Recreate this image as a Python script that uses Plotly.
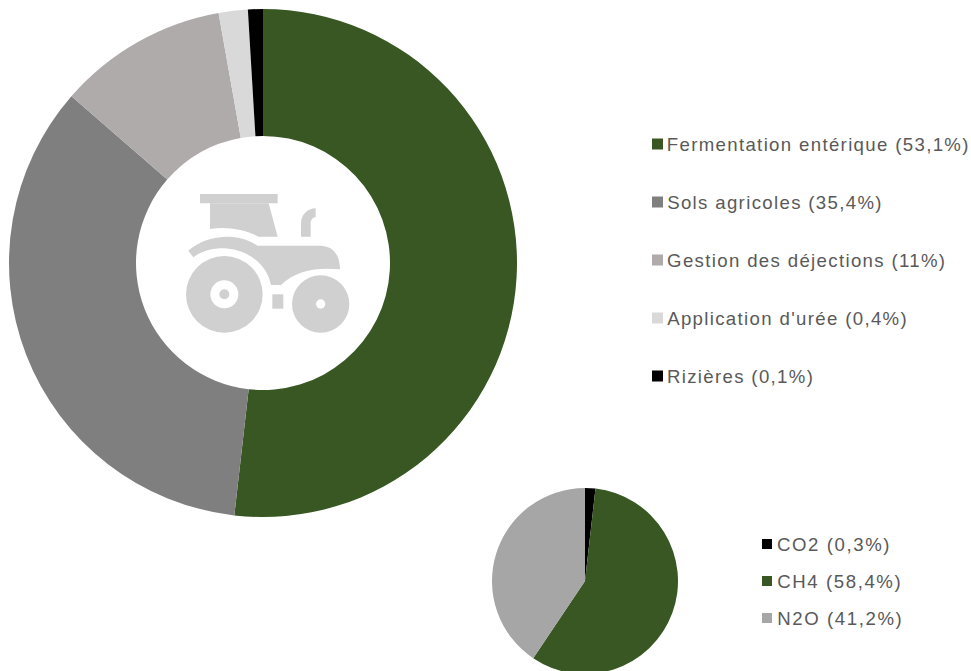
import plotly.graph_objects as go

W, H = 971, 680

source_labels = ["Fermentation entérique (53,1%)", "Sols agricoles (35,4%)",
                 "Gestion des déjections (11%)", "Application d'urée (0,4%)", "Rizières (0,1%)"]
source_values = [51.8, 34.6, 10.8, 1.85, 0.95]
source_colors = ["#385723", "#7F7F7F", "#AFABAB", "#D9D9D9", "#000000"]

gas_labels = ["CO2 (0,3%)", "CH4 (58,4%)", "N2O (41,2%)"]
gas_values = [1.8, 57.6, 40.6]
gas_colors = ["#000000", "#385723", "#A6A6A6"]

TEXT = "#595959"
ICON = "#D0D0D0"
FONT = "Liberation Sans"
SPACING_MAIN = 1.35
SPACING_GAS = 1.6


def fx(x):
    return x / W


def fy(y):
    return 1 - y / H


def dom(x0, x1, y0, y1):
    return dict(x=[fx(x0), fx(x1)], y=[fy(y1), fy(y0)])


def path(cmds):
    out = []
    for c in cmds:
        if c == "Z":
            out.append("Z")
        else:
            nums = c[1:]
            pts = " ".join(f"{fx(170 + nums[i] / 3):.5f},{fy(180 + nums[i + 1] / 3):.5f}"
                           for i in range(0, len(nums), 2))
            out.append(c[0] + " " + pts)
    return " ".join(out)


def poly(cmds, color=ICON):
    return dict(type="path", xref="paper", yref="paper", path=path(cmds),
                fillcolor=color, line=dict(width=0), layer="above")


def circ(cx, cy, r, color=ICON):
    x, y = 170 + cx / 3, 180 + cy / 3
    rr = r / 3
    return dict(type="circle", xref="paper", yref="paper", x0=fx(x - rr), x1=fx(x + rr),
                y0=fy(y + rr), y1=fy(y - rr), fillcolor=color, line=dict(width=0), layer="above")


shapes = [
    poly([("M", 90, 42), ("L", 323, 42), ("L", 323, 70), ("L", 90, 70), "Z"]),
    poly([("M", 120, 70), ("L", 296, 70), ("L", 323, 170), ("L", 265, 170),
          ("C", 225, 148, 170, 138, 120, 147), "Z"]),
    poly([("M", 393, 170), ("L", 393, 130), ("C", 393, 105, 412, 85, 437, 85), ("L", 437, 112),
          ("C", 428, 112, 422, 120, 422, 130), ("L", 422, 170), "Z"]),
    poly([("M", 55, 212), ("C", 110, 165, 200, 155, 262, 197), ("L", 450, 197),
          ("C", 485, 197, 510, 220, 510, 268),
          ("C", 440, 262, 380, 270, 333, 315), ("L", 303, 315),
          ("C", 290, 250, 230, 207, 160, 205), ("C", 125, 205, 95, 213, 70, 232), "Z"]),
    circ(163, 343, 115),
    circ(163, 343, 42, "#FFFFFF"),
    circ(163, 343, 15),
    circ(452, 372, 86),
    circ(452, 372, 14, "#FFFFFF"),
    poly([("M", 307, 343), ("L", 340, 343), ("L", 340, 386), ("L", 307, 386), "Z"]),
]

annotations = []


def key(labels, colors, ys, sx, tx, size, spacing):
    for lab, col, y in zip(labels, colors, ys):
        shapes.append(dict(type="rect", xref="paper", yref="paper",
                           x0=fx(sx), x1=fx(sx + size), y0=fy(y + size / 2), y1=fy(y - size / 2),
                           fillcolor=col, line=dict(width=0)))
        annotations.append(dict(text=lab, xref="paper", yref="paper", x=fx(tx), y=fy(y),
                                xshift=len(lab) * spacing / 2,
                                xanchor="left", yanchor="middle", showarrow=False,
                                font=dict(family=FONT, size=18.6, color=TEXT)))


key(source_labels, source_colors, [144, 202, 260, 318, 376], 652, 665, 11, SPACING_MAIN)
key(gas_labels, gas_colors, [544, 581, 618], 762, 775, 10, SPACING_GAS)

fig = go.Figure()
fig.add_trace(go.Pie(labels=source_labels, values=source_values, hole=0.5, sort=False,
                     direction="clockwise", rotation=0, textinfo="none",
                     marker=dict(colors=source_colors, line=dict(width=0)),
                     domain=dom(9, 517, 9, 517), showlegend=False))
fig.add_trace(go.Pie(labels=gas_labels, values=gas_values, sort=False,
                     direction="clockwise", rotation=0, textinfo="none",
                     marker=dict(colors=gas_colors, line=dict(width=0)),
                     domain=dom(492, 678, 488, 674), showlegend=False))
fig.update_layout(width=W, height=H, autosize=False, margin=dict(l=0, r=0, t=0, b=0),
                  paper_bgcolor="#FFFFFF", shapes=shapes, annotations=annotations,
                  showlegend=False)
css = (f".annotation text{{letter-spacing:{SPACING_MAIN}px}}"
       ".annotation[data-index='5'] text,.annotation[data-index='6'] text,"
       f".annotation[data-index='7'] text{{letter-spacing:{SPACING_GAS}px}}")
fig.write_html("out.html", config=dict(displayModeBar=False),
               post_script="document.body.style.margin='0';document.documentElement.style.overflow='hidden';"
                           "var s=document.createElement('style');s.textContent=\"" + css + "\";"
                           "document.head.appendChild(s);")
